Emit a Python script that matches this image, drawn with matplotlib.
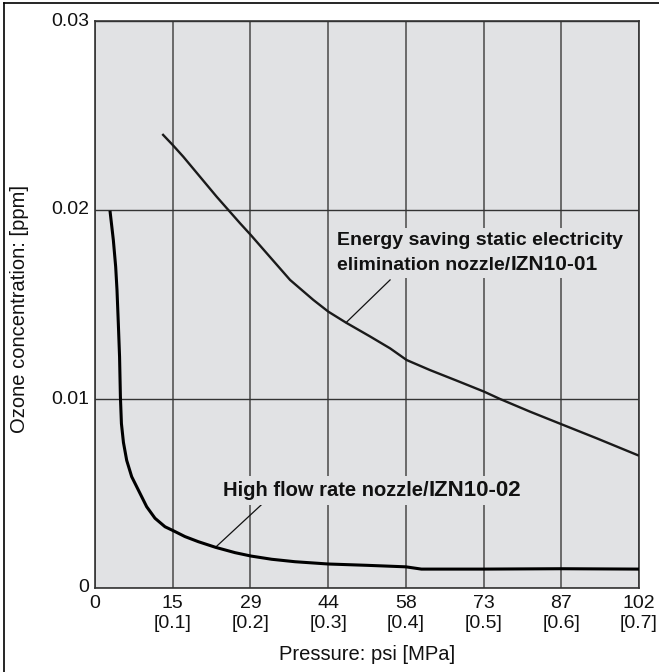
import matplotlib
matplotlib.use("Agg")
import matplotlib.pyplot as plt
from matplotlib.lines import Line2D
from matplotlib.patches import Rectangle
from matplotlib.transforms import offset_copy, Bbox

plt.rcParams['font.family'] = ['Liberation Sans', 'DejaVu Sans']

# Pressure ticks [MPa] with psi equivalents
mpa_ticks = [0, 0.1, 0.2, 0.3, 0.4, 0.5, 0.6, 0.7]
psi_labels = ["0", "15", "29", "44", "58", "73", "87", "102"]
mpa_labels = ["", "[0.1]", "[0.2]", "[0.3]", "[0.4]", "[0.5]", "[0.6]", "[0.7]"]
ppm_ticks = [0, 0.01, 0.02, 0.03]
ppm_labels = ["0", "0.01", "0.02", "0.03"]

# IZN10-01: energy saving static electricity elimination nozzle
izn01_p = [0.0866, 0.1, 0.1136, 0.1351, 0.1566, 0.1716, 0.1866, 0.2004,
           0.2210, 0.2510, 0.2810, 0.3003, 0.3230, 0.3539, 0.3797, 0.4011,
           0.4311, 0.4655, 0.5006, 0.5212, 0.5598, 0.6005, 0.6456, 0.7]
izn01_c = [0.02402, 0.02344, 0.02282, 0.02176, 0.02070, 0.02000, 0.01930,
           0.01868, 0.01771, 0.01630, 0.01524, 0.01462, 0.01404, 0.01331,
           0.01268, 0.01206, 0.01153, 0.01097, 0.01039, 0.01000, 0.00933,
           0.00866, 0.00792, 0.00700]

# IZN10-02: high flow rate nozzle
izn02_p = [0.0193, 0.0236, 0.0266, 0.0283, 0.0300, 0.0316, 0.0327, 0.0340,
           0.0366, 0.0408, 0.0472, 0.0557, 0.0665, 0.0772, 0.0901, 0.1008,
           0.1158, 0.1330, 0.1553, 0.1802, 0.2008, 0.2274, 0.2574, 0.3,
           0.35, 0.4, 0.42, 0.5, 0.6, 0.7]
izn02_c = [0.01996, 0.01841, 0.01700, 0.01577, 0.01401, 0.01224, 0.01010,
           0.00870, 0.00770, 0.00675, 0.00589, 0.00519, 0.00430, 0.00369,
           0.00324, 0.00303, 0.00272, 0.00245, 0.00215, 0.00187, 0.00169,
           0.00152, 0.00139, 0.00127, 0.00120, 0.00112, 0.00100, 0.00100,
           0.00102, 0.00100]

bg = '#e1e2e4'
ink = '#111111'

fig = plt.figure(figsize=(6.59, 6.72), dpi=100)
ax = fig.add_axes([95 / 659, 1 - 588 / 672, (639 - 95) / 659, (588 - 21) / 672])
ax.set_facecolor(bg)

ax.set_xlim(0, 0.7)
ax.set_ylim(0, 0.03)

ax.set_xticks(mpa_ticks)
ax.set_xticklabels([p if m == "" else f"{p}\n{m}" for p, m in zip(psi_labels, mpa_labels)],
                   va='top', linespacing=1.2)
ax.set_yticks(ppm_ticks)
ax.set_yticklabels(ppm_labels, va='center')
ax.tick_params(axis='both', length=0, labelsize=14, colors=ink)
ax.tick_params(axis='x', pad=5)
ax.tick_params(axis='y', pad=4)

ax.xaxis.grid(True, color='#555555', lw=1.2, zorder=1)
ax.yaxis.grid(True, color='#333333', lw=1.0, zorder=1)
ax.set_axisbelow(True)
for s in ax.spines.values():
    s.set_color('#333333')
    s.set_linewidth(1.2)

ax.plot(izn01_p, izn01_c, color='#1a1a1a', lw=1.7, zorder=3,
        solid_capstyle='butt', solid_joinstyle='round')
ax.plot(izn02_p, izn02_c, color='#000000', lw=2.2, zorder=3,
        solid_capstyle='butt', solid_joinstyle='round')

# leader lines to the curve labels
ax.plot([0.323, 0.3797], [0.01404, 0.0163], color=ink, lw=0.9, zorder=2)
ax.plot([0.155, 0.2145], [0.00215, 0.00442], color=ink, lw=0.9, zorder=2)


def put(x, y, s, size, dx_pt=0.0):
    tr = offset_copy(ax.transData, fig=fig, x=dx_pt, y=0, units='points')
    return ax.text(x, y, s, ha='left', va='baseline', fontsize=size,
                   fontweight='bold', color=ink, zorder=4, transform=tr)


def label_lines(x, lines):
    """Bold curve label; each line is (baseline_y, head, model, size, model_size)."""
    texts = []
    for y, head, model, size, msize in lines:
        t = put(x, y, head, size)
        texts.append(t)
        if model:
            fig.canvas.draw()
            w = t.get_window_extent().width * 72 / fig.dpi
            texts.append(put(x, y, model, msize, dx_pt=w))
    fig.canvas.draw()
    bb = Bbox.union([t.get_window_extent() for t in texts]).padded(4)
    (x0, y0), (x1, y1) = ax.transData.inverted().transform(bb.get_points())
    ax.add_patch(Rectangle((x0, y0), x1 - x0, y1 - y0, facecolor=bg,
                           edgecolor='none', zorder=3.5))


label_lines(0.3115, [
    ((588 - 245) / 18900, "Energy saving static electricity", "", 14, 14),
    ((588 - 270) / 18900, "elimination nozzle/", "IZN10-01", 14, 15),
])
label_lines(0.1647, [
    ((588 - 496) / 18900, "High flow rate nozzle/", "IZN10-02", 14.5, 16),
])

ax.set_xlabel("Pressure: psi [MPa]", fontsize=14.5, color=ink, va='center')
ax.set_ylabel("Ozone concentration: [ppm]", fontsize=14.5, color=ink, va='center')
ax.xaxis.set_label_coords((367 - 95) / 544, (588 - 655) / 567)
ax.yaxis.set_label_coords((20 - 95) / 544, (588 - 309) / 567)

# outer frame (top and left edges)
fig.add_artist(Line2D([4 / 659, 4 / 659], [0, 1 - 3 / 672], transform=fig.transFigure,
                      color='black', lw=1.2))
fig.add_artist(Line2D([4 / 659, 1], [1 - 3 / 672, 1 - 3 / 672], transform=fig.transFigure,
                      color='black', lw=1.2))

fig.savefig("out.png", dpi=100)
